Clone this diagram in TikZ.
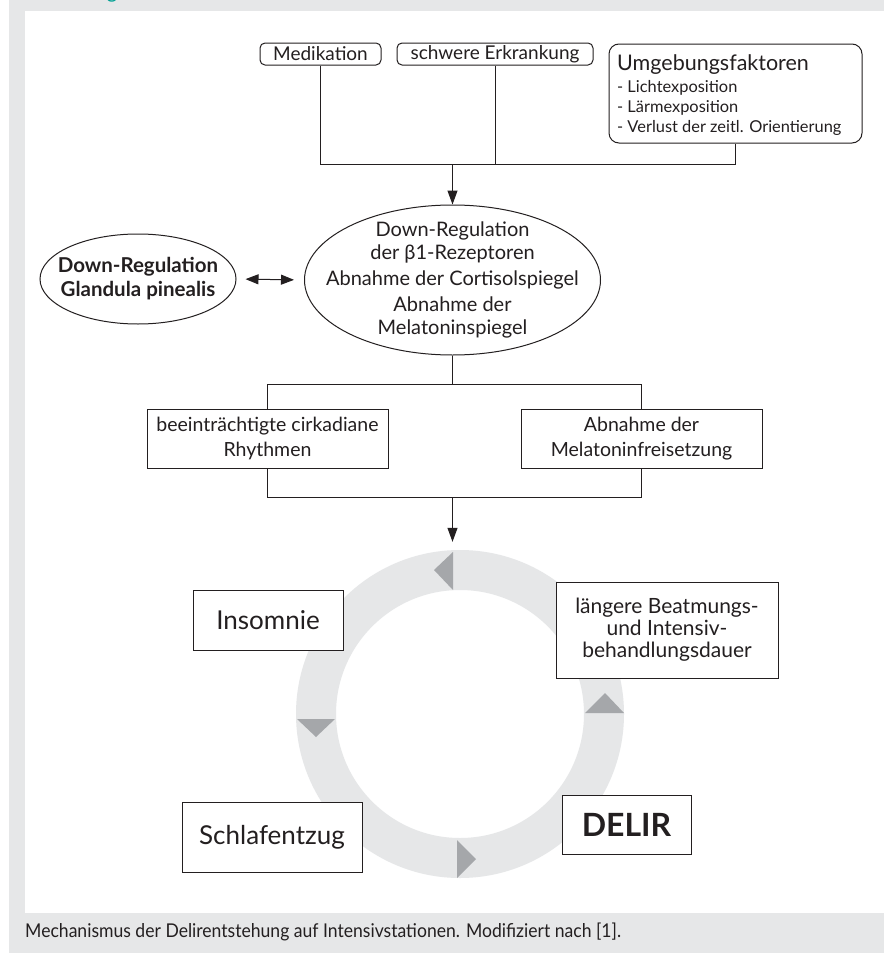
\documentclass[tikz,border=0pt]{standalone}
\usepackage{fontspec}
\usepackage{graphicx}
\setmainfont{Lato}
\usetikzlibrary{arrows.meta,shapes.geometric}
\definecolor{bggrey}{HTML}{E6E7E8}
\definecolor{ringgrey}{HTML}{E6E7E8}
\definecolor{trigrey}{HTML}{A5A7AA}
\definecolor{capteal}{HTML}{00A093}
\definecolor{ink}{HTML}{231F20}
\tikzset{
  base/.style={draw=ink, text=ink, line width=1pt, inner sep=0pt, align=center},
  rbox/.style={base, rounded corners=5pt, font=\fontsize{19}{20}\selectfont},
  sbox/.style={base, fill=white},
  etext/.style={text=ink, inner sep=0pt, align=center},
  conn/.style={draw=ink, line width=1pt},
  arr/.style={conn, -{Triangle[length=14pt,width=10pt]}},
  darr/.style={conn, {Triangle[length=13pt,width=10pt]}-{Triangle[length=13pt,width=10pt]}},
  tri/.style={fill=trigrey, draw=none}
}
\begin{document}
\begin{tikzpicture}[x=1pt,y=-1pt]
\useasboundingbox (0,0) rectangle (884,953);
% background
\fill[white] (0,0) rectangle (9,953);
\fill[bggrey] (9,0) rectangle (884,953);
\fill[white] (25,11) rectangle (884,913);
\begin{scope}
\clip (0,0) rectangle (884,11);
\node[text=capteal, font=\fontsize{20}{20}\selectfont, anchor=base, inner sep=0] (gfrag) at (112,-1.5) {g};
\end{scope}

% top boxes
\node[rbox, minimum width=121pt, minimum height=22pt] (med) at (320.5,54) {Medikation};
\node[rbox, minimum width=196pt, minimum height=22pt] (erk) at (495,54) {schwere Erkrankung};
\node[base, rounded corners=10pt, minimum width=253pt, minimum height=99pt] (umg) at (735.5,93.5) {};
\node[etext, align=left, anchor=north west, font=\fontsize{16.4}{20}\selectfont] (umgtext) at (617,54)
  {{\fontsize{21.5}{22}\selectfont Umgebungsfaktoren}\\[2pt]
   - Lichtexposition\\
   - Lärmexposition\\
   - Verlust der zeitl. Orientierung};

\coordinate (top) at (452.5,164);
\draw[conn] (med.south) -- (med.south |- top) -- (umg.south |- top) -- (umg.south);
\draw[conn] (erk.south) -- (erk.south |- top);

% ellipses
\node[base, ellipse, minimum width=296pt, minimum height=150pt] (big) at (452.5,280) {};
\node[etext, font=\fontsize{20}{23}\selectfont] (bigtext) at (big.center)
  {Down-Regulation\\ der β1-Rezeptoren\\[3pt] Abnahme der Cortisolspiegel\\[3pt] Abnahme der\\ Melatoninspiegel};
\node[base, ellipse, minimum width=196pt, minimum height=90pt] (pin) at (138,279) {};
\node[etext, font=\fontsize{20.5}{24}\selectfont\bfseries] (pintext) at (pin.center)
  {Down-Regulation\\ Glandula pinealis};
\draw[arr] (top) -- (big.north);
\draw[darr, shorten <=9pt, shorten >=10pt] (pin.east) -- (big.west);

% middle boxes
\node[sbox, minimum width=241pt, minimum height=59pt, font=\fontsize{19.5}{25}\selectfont] (rhy) at (267.5,438.5)
  {beeinträchtigte cirkadiane\\ Rhythmen};
\node[sbox, minimum width=241pt, minimum height=59pt, font=\fontsize{19.5}{25}\selectfont] (mel) at (641.5,438.5)
  {Abnahme der\\ Melatoninfreisetzung};
\coordinate (mid) at (452.5,384);
\coordinate (low) at (452.5,497);
\draw[conn] (big.south) -- (mid);
\draw[conn] (rhy.north) -- (rhy.north |- mid) -- (mel.north |- mid) -- (mel.north);
\draw[conn] (rhy.south) -- (rhy.south |- low) -- (mel.south |- low) -- (mel.south);

% ring
\draw[ringgrey, line width=40pt] (460,714) circle (144);
\node[circle, minimum size=328pt, inner sep=0, draw=none] (ring) at (460,714) {};
\draw[arr, shorten >=8pt] (low) -- (low |- ring.north);
\fill[tri] (453,552) -- (453,590) -- (434,570) -- cycle;
\fill[tri] (585,713) -- (624,713) -- (605,693) -- cycle;
\fill[tri] (297,719) -- (335,719) -- (316,737) -- cycle;
\fill[tri] (457,840) -- (457,878) -- (476,859) -- cycle;

% cycle boxes
\node[sbox, minimum width=150pt, minimum height=60pt, font=\fontsize{26}{28}\selectfont] (ins) at (268,620) {Insomnie};
\node[sbox, minimum width=180pt, minimum height=70pt, font=\fontsize{26}{28}\selectfont] (sch) at (272,837) {Schlafentzug};
\node[sbox, minimum width=222pt, minimum height=96pt, font=\fontsize{21}{22}\selectfont] (beat) at (667,630)
  {längere Beatmungs-\\ und Intensiv-\\ behandlungsdauer};
\node[sbox, minimum width=129pt, minimum height=59pt, font=\fontsize{32}{34}\selectfont\bfseries] (del) at (626.5,824.5) {DELIR};

% caption
\node[anchor=west, inner sep=0, text=ink, font=\fontsize{19}{20}\selectfont] (cap) at (25,932)
  {\scalebox{0.925}[1]{Mechanismus der Delirentstehung auf Intensivstationen. Modifiziert nach [1].}};
\end{tikzpicture}
\end{document}
